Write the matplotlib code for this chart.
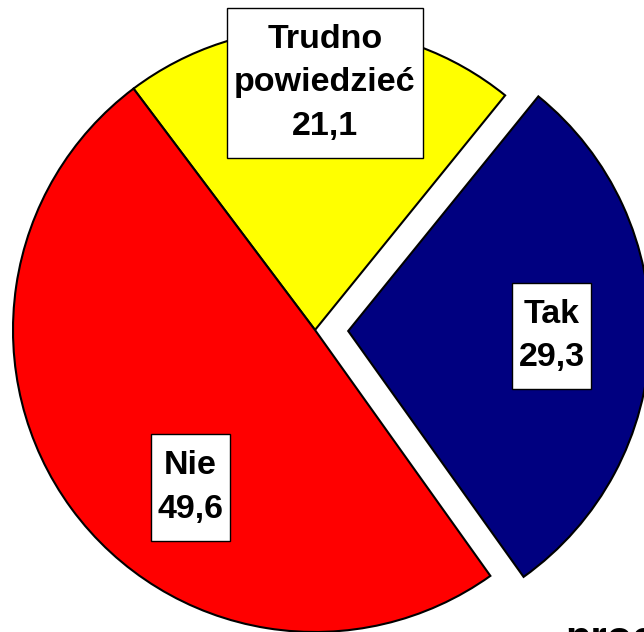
import matplotlib
matplotlib.use("Agg")
import matplotlib.pyplot as plt
from matplotlib.path import Path

labels = ["Tak", "Trudno\npowiedzieć", "Nie"]
values = [29.3, 21.1, 49.6]
value_labels = ["29,3", "21,1", "49,6"]
colors = ["#000080", "#FFFF00", "#FF0000"]
explode = [0.11, 0.0, 0.0]

W, H = 644, 632
R = 302.0
cx, cy = 315.0, 330.0


def box_style(x0, y0, width, height, mutation_size):
    padx = 0.20 * mutation_size
    pady = 0.46 * mutation_size
    x0, y0 = x0 - padx, y0 - pady
    x1, y1 = x0 + width + 2 * padx, y0 + height + 2 * pady
    return Path([(x0, y0), (x1, y0), (x1, y1), (x0, y1), (x0, y0)],
                closed=True)


fig = plt.figure(figsize=(W / 100, H / 100), dpi=100)
ax = fig.add_axes([0, 0, 1, 1])
ax.axis("off")

wedges, _ = ax.pie(values, colors=colors, explode=explode, startangle=-54.5,
                   counterclock=True, radius=1.0,
                   wedgeprops=dict(edgecolor="black", linewidth=1.5))
ax.set_xlim(-cx / R, (W - cx) / R)
ax.set_ylim(-(H - cy) / R, cy / R)
ax.set_aspect("auto")

# label positions in pixel coords (from top-left)
pos_px = [(551.5, 336), (325, 83), (190.5, 487.5)]
for lab, val, (px, py) in zip(labels, value_labels, pos_px):
    x = (px - cx) / R
    y = (cy - py) / R
    ax.text(x, y, f"{lab}\n{val}", ha="center", va="center",
            fontsize=24.5, fontweight="bold", family="Liberation Sans",
            linespacing=1.54,
            bbox=dict(boxstyle=box_style, facecolor="white",
                      edgecolor="black", linewidth=1.0))

fig.text(565 / W, -19 / H, "procent", fontsize=30, fontweight="bold",
         family="Liberation Sans", ha="left", va="baseline")

fig.savefig("out.png", dpi=100)
